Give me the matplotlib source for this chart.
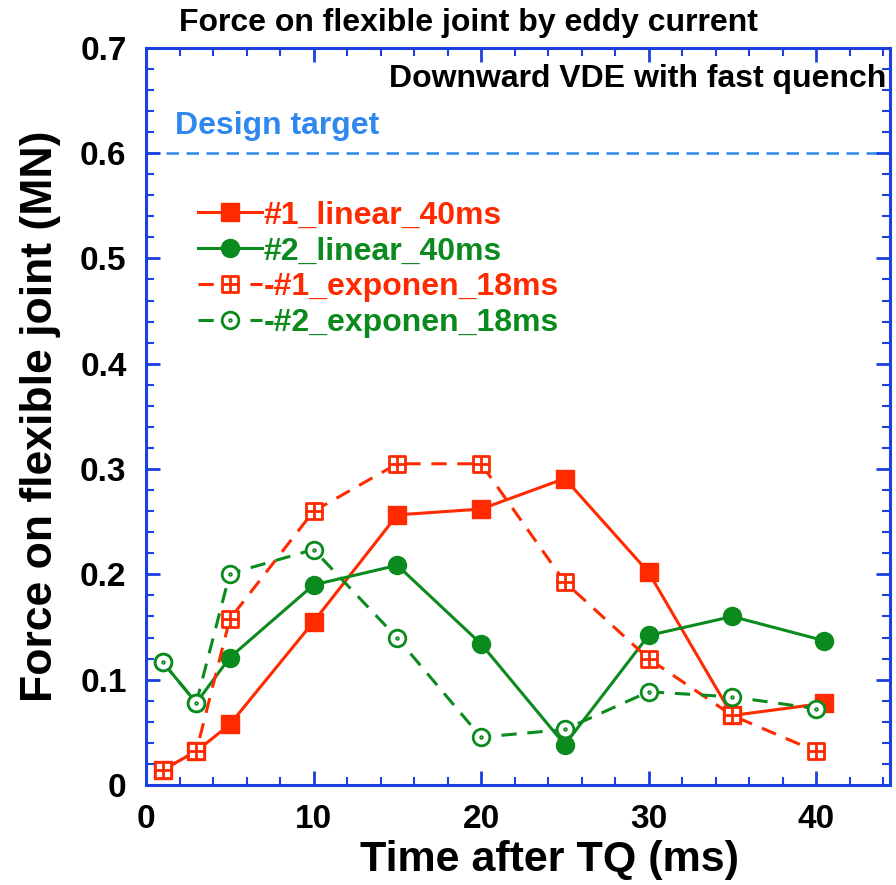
import numpy as np
import matplotlib
matplotlib.use("Agg")
import matplotlib.pyplot as plt
from matplotlib.path import Path
from matplotlib.ticker import MultipleLocator, FuncFormatter

# data
t_lin = [1, 3, 5, 10, 15, 20, 25, 30, 35, 40.5]
f1_lin = [0.0144, 0.032, 0.0575, 0.155, 0.2565, 0.262, 0.291, 0.202, 0.066, 0.0776]
f2_lin = [0.1166, 0.078, 0.121, 0.190, 0.2086, 0.134, 0.0383, 0.142, 0.160, 0.137]

t_exp = [1, 3, 5, 10, 15, 20, 25, 30, 35, 40]
f1_exp = [0.0144, 0.032, 0.1575, 0.260, 0.305, 0.305, 0.1927, 0.120, 0.066, 0.032]
f2_exp = [0.1166, 0.078, 0.2006, 0.2236, 0.1396, 0.0454, 0.0527, 0.0885, 0.0837, 0.0725]

design_target = 0.6

labels = ["#1_linear_40ms", "#2_linear_40ms", "-#1_exponen_18ms", "-#2_exponen_18ms"]

RED = "#ff2a00"
GREEN = "#0b8a1e"
BLUE = "#1c3fe0"
LIGHTBLUE = "#2f88ee"

FONT = ["Liberation Sans", "DejaVu Sans"]
plt.rcParams["font.family"] = FONT
plt.rcParams["font.weight"] = "bold"

# square with a cross inside, and circle with a dot
box_plus = Path([(-1, -1), (1, -1), (1, 1), (-1, 1), (-1, -1), (0, -1), (0, 1), (-1, 0), (1, 0)],
                [Path.MOVETO, Path.LINETO, Path.LINETO, Path.LINETO, Path.CLOSEPOLY,
                 Path.MOVETO, Path.LINETO, Path.MOVETO, Path.LINETO])
circ_dot = Path.make_compound_path(Path.unit_circle(), Path.circle((0, 0), 0.1))

fig = plt.figure(figsize=(8.96, 8.85), dpi=100)
ax = fig.add_axes([0.163, 0.113, 0.830, 0.833])

ax.plot(t_lin, f1_lin, color=RED, lw=2.2, marker="s", ms=13, mfc=RED, mec=RED,
        label=labels[0], zorder=2)
ax.plot(t_lin, f2_lin, color=GREEN, lw=2.2, marker="o", ms=13, mfc=GREEN, mec=GREEN,
        label=labels[1], zorder=2)
ax.plot(t_exp, f1_exp, color=RED, lw=2.2, ls=(0, (5, 3.5)), marker=box_plus, ms=11,
        mfc="white", mec=RED, mew=2, label=labels[2], zorder=3)
ax.plot(t_exp, f2_exp, color=GREEN, lw=2.2, ls=(0, (5, 3.5)), marker=circ_dot, ms=12,
        mfc="white", mec=GREEN, mew=2, label=labels[3], zorder=3)

ax.axhline(design_target, color=LIGHTBLUE, lw=1.8, ls=(0, (5, 3)), zorder=1)
ax.text(1.75, 0.618, "Design target", color=LIGHTBLUE, fontsize=23, fontweight="bold",
        va="baseline")
ax.text(0.995, 0.958, "Downward VDE with fast quench", transform=ax.transAxes,
        ha="right", va="center", fontsize=23, fontweight="bold")
fig.text(0.2, 0.974, "Force on flexible joint by eddy current", fontsize=23,
         fontweight="bold", va="center")

ax.set_xlim(0, 44.4)
ax.set_ylim(0, 0.7)
ax.xaxis.set_major_locator(MultipleLocator(10))
ax.xaxis.set_minor_locator(MultipleLocator(2))
ax.yaxis.set_major_locator(MultipleLocator(0.1))
ax.yaxis.set_minor_locator(MultipleLocator(0.02))
ax.yaxis.set_major_formatter(FuncFormatter(lambda v, p: "0" if abs(v) < 1e-9 else f"{v:.1f}"))

for s in ax.spines.values():
    s.set_color(BLUE)
    s.set_linewidth(2.2)
ax.tick_params(which="both", direction="in", top=True, right=True, color=BLUE)
ax.tick_params(which="major", length=10, width=2, pad=14, labelsize=24)
ax.tick_params(which="minor", length=6, width=1.5)
for lab in ax.get_xticklabels() + ax.get_yticklabels():
    lab.set_fontweight("bold")

ax.set_xlabel("Time after TQ (ms)", fontsize=31, fontweight="bold", labelpad=8)
ax.xaxis.set_label_coords(0.543, -0.075)
ax.set_ylabel("Force on flexible joint (MN)", fontsize=32, fontweight="bold", labelpad=14)

leg = ax.legend(loc="upper left", bbox_to_anchor=(0.053, 0.81), frameon=False,
                handlelength=2.0, handletextpad=0.05, labelspacing=0.18, borderaxespad=0,
                prop={"weight": "bold", "size": 23}, labelcolor="linecolor")

fig.savefig("out.png", dpi=100)
